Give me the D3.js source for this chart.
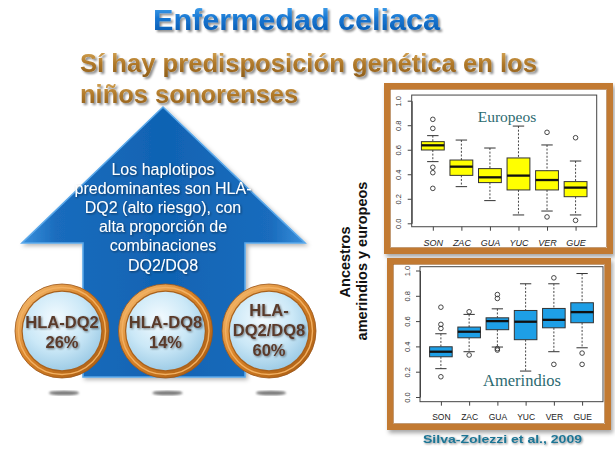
<!DOCTYPE html>
<html><head><meta charset="utf-8">
<script src="https://cdn.jsdelivr.net/npm/d3@7"></script>
<style>html,body{margin:0;padding:0;background:#fff;} svg{display:block}</style>
</head><body><svg id="c" width="615" height="449"></svg>
<script>
// ---------------- data ----------------
const regions = ["SON","ZAC","GUA","YUC","VER","GUE"];
const yTicks = [0, 0.2, 0.4, 0.6, 0.8, 1.0];

// Europeos (yellow)
const euroLo  = [0.503, 0.299, 0.185, 0.068, 0.100, 0.068];
const euroQ1  = [0.598, 0.391, 0.332, 0.272, 0.272, 0.217];
const euroMed = [0.636, 0.462, 0.375, 0.389, 0.353, 0.291];
const euroQ3  = [0.666, 0.516, 0.446, 0.533, 0.429, 0.340];
const euroHi  = [0.715, 0.679, 0.614, 0.793, 0.639, 0.508];
const euroOut = [[0.848, 0.774, 0.457, 0.413, 0.285], [], [], [], [0.742, 0.052], [0.698, 0.024]];

// Amerindios (blue)
const amerLo  = [0.224, 0.358, 0.395, 0.205, 0.358, 0.389];
const amerQ1  = [0.318, 0.468, 0.532, 0.453, 0.547, 0.587];
const amerMed = [0.358, 0.516, 0.600, 0.595, 0.610, 0.671];
const amerQ3  = [0.397, 0.553, 0.626, 0.684, 0.700, 0.745];
const amerHi  = [0.500, 0.653, 0.697, 0.895, 0.895, 0.976];
const amerOut = [[0.710, 0.574, 0.542, 0.160], [0.674, 0.332], [0.810, 0.779, 0.382, 0.371], [], [0.942, 0.258], [0.347, 0.258]];

const arrowLines = ["Los haplotipos", "predominantes son HLA-", "DQ2 (alto riesgo), con", "alta proporción de", "combinaciones", "DQ2/DQ8"];
const haploNames = [["HLA-DQ2"], ["HLA-DQ8"], ["HLA-", "DQ2/DQ8"]];
const haploShare = [26, 14, 60];

// ---------------- drawing ----------------
const svg = d3.select("#c");
svg.append("rect").attr("width", 615).attr("height", 449).attr("fill", "#fff");
const defs = svg.append("defs");

function dropShadow(id, dx, dy, sd, op) {
  const f = defs.append("filter").attr("id", id).attr("x", "-20%").attr("y", "-20%").attr("width", "140%").attr("height", "140%");
  f.append("feDropShadow").attr("dx", dx).attr("dy", dy).attr("stdDeviation", sd)
    .attr("flood-color", "#000").attr("flood-opacity", op);
}
dropShadow("shTxt", 2, 2, 1, 0.45);
dropShadow("shSoft", 1, 1, 0.8, 0.5);
dropShadow("shFrame", 2, 3, 2, 0.35);
dropShadow("shArrow", 2, 2, 2, 0.3);
defs.append("filter").attr("id", "blur").append("feGaussianBlur").attr("stdDeviation", 1.1);

function linGrad(id, x1, y1, x2, y2, stops) {
  const g = defs.append("linearGradient").attr("id", id)
    .attr("x1", x1).attr("y1", y1).attr("x2", x2).attr("y2", y2);
  stops.forEach(s => g.append("stop").attr("offset", s[0]).attr("stop-color", s[1]));
}
linGrad("gTitle", 0, 0, 0, 1, [["0%", "#4aa6ee"], ["45%", "#1676d2"], ["100%", "#0a56aa"]]);
linGrad("gSub", 0, 0, 0, 1, [["0%", "#d9ab5c"], ["50%", "#b27a2a"], ["100%", "#8e5e1a"]]);
linGrad("gArrow", 0, 0, 1, 0, [["0%", "#3a90dc"], ["12%", "#1a6cbd"], ["50%", "#1063b3"], ["88%", "#1a6cbd"], ["100%", "#3a90dc"]]);
linGrad("gRing", 0, 0, 1, 1, [["0%", "#f8c47c"], ["45%", "#d98328"], ["100%", "#a35810"]]);
const rg = defs.append("radialGradient").attr("id", "gInner").attr("cx", "42%").attr("cy", "35%").attr("r", "70%");
[["0%", "#f4fbff"], ["55%", "#cbe8f7"], ["100%", "#98c8e4"]].forEach(s => rg.append("stop").attr("offset", s[0]).attr("stop-color", s[1]));

// Title
svg.append("text").attr("x", 153).attr("y", 30).attr("textLength", 287).attr("lengthAdjust", "spacingAndGlyphs")
  .attr("font-family", "Liberation Sans, Arial, sans-serif").attr("font-weight", "bold").attr("font-size", 29)
  .attr("fill", "url(#gTitle)").attr("filter", "url(#shTxt)").text("Enfermedad celiaca");

// Subtitle
svg.append("text").attr("x", 80).attr("y", 72).attr("textLength", 457).attr("lengthAdjust", "spacingAndGlyphs")
  .attr("font-family", "Liberation Sans, Arial, sans-serif").attr("font-weight", "bold").attr("font-size", 25.5)
  .attr("fill", "url(#gSub)").attr("filter", "url(#shTxt)").text("Sí hay predisposición genética en los");
svg.append("text").attr("x", 80).attr("y", 103)
  .attr("font-family", "Liberation Sans, Arial, sans-serif").attr("font-weight", "bold").attr("font-size", 25.5)
  .attr("fill", "url(#gSub)").attr("filter", "url(#shTxt)").text("niños sonorenses");

// Arrow
const arrowPts = [[163, 107], [305, 243], [245, 243], [245, 377], [83, 377], [83, 243], [22, 243]];
svg.append("path").attr("d", d3.line()(arrowPts) + "Z")
  .attr("fill", "url(#gArrow)").attr("stroke", "#5aa8ea").attr("stroke-width", 1.6)
  .attr("stroke-linejoin", "miter").attr("filter", "url(#shArrow)");

const at = svg.append("g").attr("font-family", "Liberation Sans, Arial, sans-serif").attr("font-size", 16)
  .attr("fill", "#fff").attr("text-anchor", "middle").attr("filter", "url(#shSoft)");
at.selectAll("text").data(arrowLines).join("text")
  .attr("x", 163).attr("y", (d, i) => 175 + i * 19.1).text(d => d);

// Circle shadows and circles
const circX = d3.scalePoint().domain(d3.range(haploShare.length)).range([62, 269]);
svg.append("g").selectAll("ellipse").data(haploShare).join("ellipse")
  .attr("cx", (d, i) => circX(i) + 2).attr("cy", 393).attr("rx", 15).attr("ry", 2.3)
  .attr("fill", "#7a7a7a").attr("filter", "url(#blur)");

const cg = svg.append("g").selectAll("g").data(haploShare).join("g")
  .attr("transform", (d, i) => `translate(${circX(i)},331)`);
cg.append("circle").attr("r", 47).attr("fill", "url(#gRing)").attr("stroke", "#9a561a").attr("stroke-width", 0.8);
cg.append("circle").attr("r", 43.5).attr("fill", "none").attr("stroke", "#f2b062").attr("stroke-width", 1.4);
cg.append("circle").attr("r", 40.5).attr("fill", "#a9611c");
cg.append("circle").attr("r", 39.3).attr("fill", "url(#gInner)");
cg.each(function (d, i) {
  const lines = haploNames[i].concat([d + "%"]);
  const y0 = lines.length === 2 ? -3 : -15;
  d3.select(this).selectAll("text").data(lines).join("text")
    .attr("x", 0).attr("y", (t, j) => y0 + j * 20)
    .attr("text-anchor", "middle").attr("font-family", "Liberation Sans, Arial, sans-serif")
    .attr("font-weight", "bold").attr("font-size", 16.5).attr("fill", "#5a3a2c")
    .attr("filter", "url(#shSoft)").text(t => t);
});

// Rotated labels
const rl = svg.append("g").attr("font-family", "Liberation Sans, Arial, sans-serif").attr("font-weight", "bold")
  .attr("font-size", 14.5).attr("fill", "#111").attr("text-anchor", "middle");
rl.append("text").attr("transform", "translate(350,262) rotate(-90)").text("Ancestros");
rl.append("text").attr("transform", "translate(367,261) rotate(-90)").text("amerindios y europeos");

// Frames
function frame(x, y, w, h) {
  svg.append("rect").attr("x", x).attr("y", y).attr("width", w).attr("height", h)
    .attr("fill", "#fff").attr("stroke", "#c27a30").attr("stroke-width", 6).attr("filter", "url(#shFrame)");
  svg.append("rect").attr("x", x + 3.5).attr("y", y + 3.5).attr("width", w - 7).attr("height", h - 7)
    .attr("fill", "none").attr("stroke", "#9c5a1c").attr("stroke-width", 0.6);
}
frame(387, 86, 223, 165);
frame(390, 261, 218, 166);

// Box plot panel
function panel(opt) {
  const x = d3.scaleLinear().domain([0.26, 6.74]).range([opt.left, opt.right]);
  const y = d3.scaleLinear().domain([0, 1]).range(opt.yRange);
  const g = svg.append("g");
  const top = y(opt.yTop), bot = y(opt.yBot);

  g.append("rect").attr("x", opt.left).attr("y", top).attr("width", opt.right - opt.left).attr("height", bot - top)
    .attr("fill", "none").attr("stroke", "#444").attr("stroke-width", 1);

  const half = 0.4, cap = 0.2;
  const bx = g.selectAll("g.box").data(regions).join("g").attr("class", "box");
  bx.each(function (r, i) {
    const s = d3.select(this), c = i + 1;
    s.append("line").attr("x1", x(c)).attr("x2", x(c)).attr("y1", y(opt.hi[i])).attr("y2", y(opt.q3[i]))
      .attr("stroke", "#333").attr("stroke-width", 0.9).attr("stroke-dasharray", "2,1.6");
    s.append("line").attr("x1", x(c)).attr("x2", x(c)).attr("y1", y(opt.q1[i])).attr("y2", y(opt.lo[i]))
      .attr("stroke", "#333").attr("stroke-width", 0.9).attr("stroke-dasharray", "2,1.6");
    [opt.hi[i], opt.lo[i]].forEach(v => s.append("line").attr("x1", x(c - cap)).attr("x2", x(c + cap))
      .attr("y1", y(v)).attr("y2", y(v)).attr("stroke", "#333").attr("stroke-width", 1));
    s.append("rect").attr("x", x(c - half)).attr("y", y(opt.q3[i])).attr("width", x(c + half) - x(c - half))
      .attr("height", y(opt.q1[i]) - y(opt.q3[i])).attr("fill", opt.fill).attr("stroke", "#333").attr("stroke-width", 1);
    s.append("line").attr("x1", x(c - half)).attr("x2", x(c + half)).attr("y1", y(opt.med[i])).attr("y2", y(opt.med[i]))
      .attr("stroke", "#111").attr("stroke-width", 2.3);
    s.selectAll("circle").data(opt.out[i]).join("circle").attr("cx", x(c)).attr("cy", v => y(v)).attr("r", 2.3)
      .attr("fill", "none").attr("stroke", "#333").attr("stroke-width", 0.9);
  });

  const ya = g.append("g").attr("transform", `translate(${opt.left},0)`)
    .call(d3.axisLeft(y).tickValues(yTicks).tickSize(4).tickSizeOuter(0).tickFormat(d3.format(".1f")));
  ya.selectAll("path,line").attr("stroke", "#444");
  ya.selectAll("text").attr("transform", "rotate(-90)").attr("x", 0).attr("y", -10.5).attr("dy", 0)
    .attr("text-anchor", "middle").attr("font-family", "Liberation Sans, Arial, sans-serif")
    .attr("font-size", 7.5).attr("fill", "#333");

  const xa = g.append("g").attr("transform", `translate(0,${bot})`)
    .call(d3.axisBottom(x).tickValues(d3.range(1, regions.length + 1)).tickSize(4).tickSizeOuter(0)
      .tickFormat(d => regions[d - 1]));
  xa.select(".domain").remove();
  xa.selectAll("line").attr("stroke", "#444");
  xa.selectAll("text").attr("y", opt.labDy).attr("dy", 0).attr("font-family", "Liberation Sans, Arial, sans-serif")
    .attr("font-size", opt.labSize).attr("font-style", opt.italic ? "italic" : "normal").attr("fill", "#222");

  g.append("text").attr("x", opt.titleX).attr("y", opt.titleY).attr("text-anchor", "middle")
    .attr("font-family", "Liberation Serif, Times New Roman, serif").attr("font-size", opt.titleSize)
    .attr("fill", "#2c6a70").text(opt.title);
}

panel({ left: 411.7, right: 596.7, yRange: [223.3, 100.7], yTop: 1.046, yBot: -0.028,
  lo: euroLo, q1: euroQ1, med: euroMed, q3: euroQ3, hi: euroHi, out: euroOut, fill: "#ffff00",
  labDy: 19, labSize: 9, italic: true, title: "Europeos", titleX: 507, titleY: 122, titleSize: 15.5 });

panel({ left: 420, right: 603, yRange: [397, 270.5], yTop: 1.03, yBot: -0.037,
  lo: amerLo, q1: amerQ1, med: amerMed, q3: amerQ3, hi: amerHi, out: amerOut, fill: "#1e9fe6",
  labDy: 18.5, labSize: 8.5, italic: false, title: "Amerindios", titleX: 522, titleY: 386, titleSize: 16.5 });

// Citation
svg.append("text").attr("x", 502.5).attr("y", 443).attr("text-anchor", "middle")
  .attr("textLength", 159).attr("lengthAdjust", "spacingAndGlyphs")
  .attr("font-family", "Liberation Sans, Arial, sans-serif").attr("font-weight", "bold").attr("font-size", 11.5)
  .attr("fill", "#1d7494").attr("filter", "url(#shSoft)").text("Silva-Zolezzi et al., 2009");
</script></body></html>
